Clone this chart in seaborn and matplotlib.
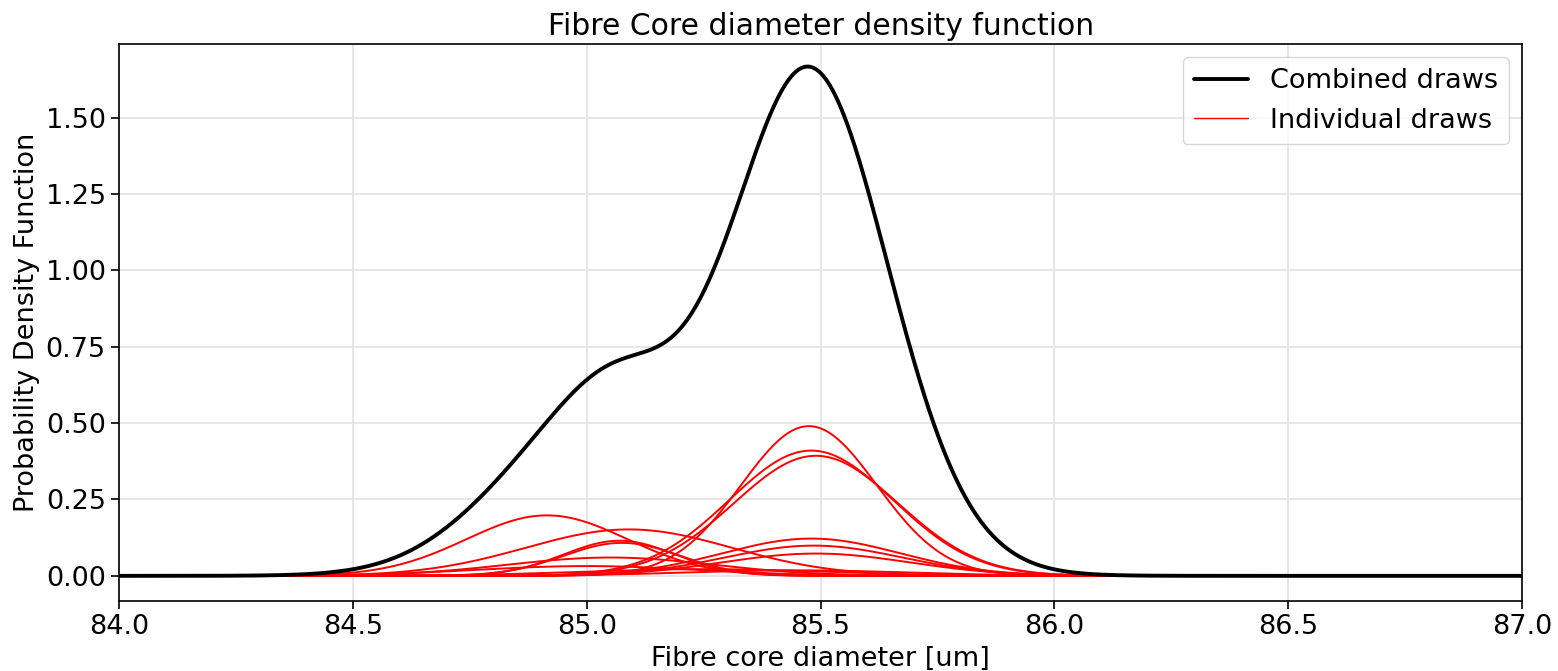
import numpy as np
import pandas as pd
import matplotlib
matplotlib.use("Agg")
import matplotlib.pyplot as plt
import seaborn as sns

# Individual draws: Gaussian components
means = [84.915, 85.09, 85.07, 85.075, 85.05, 85.475, 85.48, 85.49, 85.48, 85.485, 85.49, 85.0, 85.25, 85.45]
sigmas = [0.172, 0.22, 0.12, 0.125, 0.22, 0.145, 0.175, 0.175, 0.19, 0.19, 0.20, 0.24, 0.26, 0.24]
peaks = [0.198, 0.152, 0.115, 0.108, 0.060, 0.490, 0.410, 0.393, 0.122, 0.099, 0.073, 0.032, 0.022, 0.018]

x_min, x_max = 84.0, 87.0
xticks = [84.0, 84.5, 85.0, 85.5, 86.0, 86.5, 87.0]
yticks = [0.00, 0.25, 0.50, 0.75, 1.00, 1.25, 1.50]

sns.set_theme(style="ticks", rc={"text.color": "black", "axes.labelcolor": "black",
                                 "xtick.color": "black", "ytick.color": "black"})
plt.rcParams['font.family'] = ['DejaVu Sans']

xs = np.linspace(x_min, x_max, 1500)
curves = []
for i, (m, s, p) in enumerate(zip(means, sigmas, peaks)):
    curves.append(pd.DataFrame({"x": xs, "y": p * np.exp(-0.5 * ((xs - m) / s) ** 2), "draw": i}))
df = pd.concat(curves, ignore_index=True)
combined = df.groupby("x", as_index=False)["y"].sum()

fig = plt.figure(figsize=(15.58, 6.71), dpi=100)
ax = fig.add_axes([0.0764, 0.104, 0.9006, 0.831])

sns.lineplot(data=combined, x="x", y="y", color="black", lw=2.8, ax=ax,
             label="Combined draws", zorder=5)
for i in range(len(means)):
    sub = df[df["draw"] == i]
    sns.lineplot(data=sub, x="x", y="y", color="red", lw=1.4, ax=ax,
                 label="Individual draws" if i == 0 else None, zorder=3)

ax.set_xlim(x_min, x_max)
ax.set_ylim(-0.083, 1.742)
ax.set_xticks(xticks)
ax.set_xticklabels([f"{t:.1f}" for t in xticks])
ax.set_yticks(yticks)
ax.set_yticklabels([f"{t:.2f}" for t in yticks])
ax.tick_params(labelsize=19.5, direction="out", length=6, width=1.2, color="black")
ax.grid(True, color="#e3e3e3", lw=1.2)
for sp in ax.spines.values():
    sp.set_color("black")
    sp.set_linewidth(1.2)

ax.set_title("Fibre Core diameter density function", fontsize=21.5)
ax.set_xlabel("Fibre core diameter [um]", fontsize=19.5)
ax.set_ylabel("Probability Density Function", fontsize=19.5)

leg = ax.legend(loc="upper right", fontsize=19.5, frameon=True, fancybox=True)
leg.get_frame().set_edgecolor("#cccccc")
leg.get_lines()[1].set_linewidth(1.0)
leg.get_lines()[0].set_linewidth(2.8)

fig.savefig("out.png", dpi=100)
